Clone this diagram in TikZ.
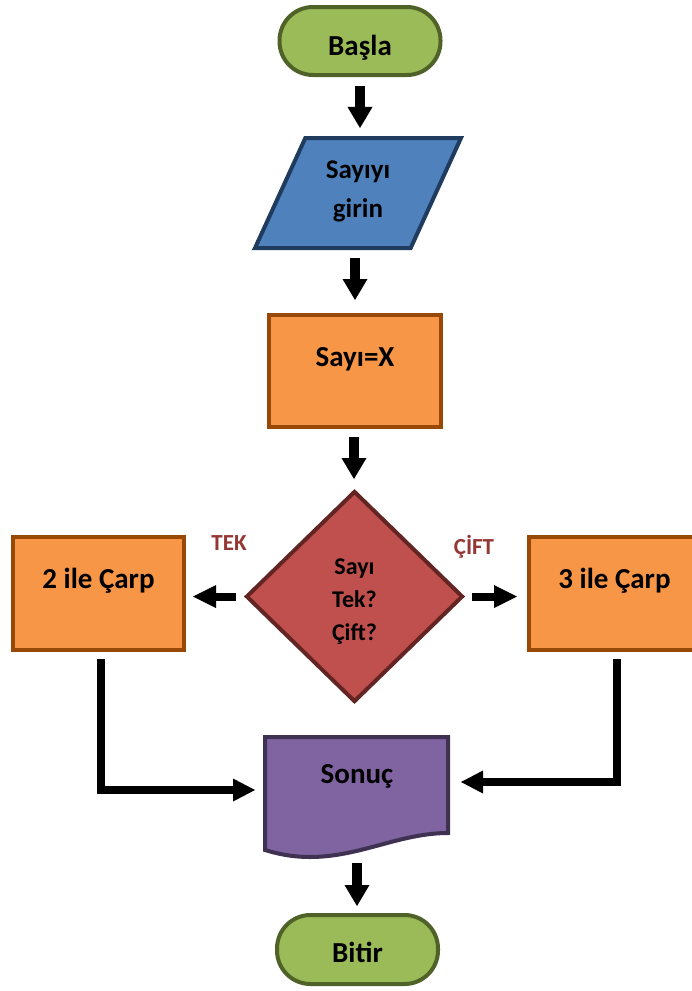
\documentclass[tikz,border=0pt]{standalone}
\usepackage{fontspec}
\setmainfont{Carlito}
\usetikzlibrary{arrows.meta,shapes.geometric}
\definecolor{gfill}{HTML}{9BBB59}
\definecolor{gborder}{HTML}{4F6228}
\definecolor{bfill}{HTML}{4F81BD}
\definecolor{bborder}{HTML}{1F3B5E}
\definecolor{ofill}{HTML}{F79646}
\definecolor{oborder}{HTML}{984807}
\definecolor{rfill}{HTML}{C0504D}
\definecolor{rborder}{HTML}{632523}
\definecolor{pfill}{HTML}{8064A2}
\definecolor{pborder}{HTML}{3F3151}
\definecolor{labcol}{HTML}{953735}
\tikzset{
  bigfont/.style={font=\fontsize{29}{34}\selectfont\bfseries},
  term/.style={draw=gborder, fill=gfill, line width=4pt, rounded corners=33.5pt,
    minimum width=161pt, minimum height=68pt, inner sep=0pt, bigfont},
  proc/.style={draw=oborder, fill=ofill, line width=4pt, inner sep=0pt, bigfont},
  lab/.style={text=labcol, inner sep=0pt, font=\fontsize{23}{28}\selectfont\bfseries},
  bigarrow/.style={line width=10pt, -{Triangle[width=25pt,length=21pt,line width=0pt]}},
  smallarrow/.style={line width=8pt, -{Triangle[width=23pt,length=23pt,line width=0pt]}},
  elbow/.style={line width=8pt, -{Triangle[width=23pt,length=22pt,line width=0pt]}},
}
\begin{document}
\begin{tikzpicture}[x=1pt,y=-1pt]
\useasboundingbox (0,0) rectangle (692,991);

% nodes
\node[term, text height=30pt, text depth=2pt] (start) at (360,41) {Başla};

\node[trapezium, trapezium left angle=70, trapezium right angle=110,
      trapezium stretches=true, minimum width=206pt, minimum height=110pt,
      draw=bborder, fill=bfill, line width=4pt, inner sep=0pt,
      font=\fontsize{27}{39}\selectfont\bfseries] (in) at (358,193)
      {\begin{tabular}{@{}c@{}}Sayıyı\\girin\rule[-18.3pt]{0pt}{18.3pt}\end{tabular}};

\node[proc, minimum width=172pt, minimum height=112pt, text height=14pt, text depth=24pt] (x) at (355,371) {Sayı=X};

\node[diamond, draw=rborder, fill=rfill, line width=4pt, minimum width=217pt,
      minimum height=211pt, inner sep=0pt,
      font=\fontsize{24}{33}\selectfont\bfseries] (d) at (354.5,596.5)
      {\begin{tabular}{@{}c@{}}Sayı\rule{0pt}{30.9pt}\\Tek?\\Çift?\end{tabular}};

\node[proc, minimum width=171pt, minimum height=113pt, text height=14pt, text depth=25pt] (l2) at (98.5,593.5) {2 ile Çarp};
\node[proc, minimum width=171pt, minimum height=113pt, text height=14pt, text depth=25pt] (r3) at (614.5,593.5) {3 ile Çarp};

\node[lab] (tek) at (229,543) {TEK};
\node[lab] (cift) at (474,547) {ÇİFT};

% document shape
\draw[draw=pborder, fill=pfill, line width=4pt, line join=miter]
  (265,737) -- (448,737) -- (448,833)
  .. controls (400,833) and (360,857) .. (310,857)
  .. controls (290,857) and (275,853) .. (265,850) -- cycle;
\node[anchor=base, inner sep=0pt, bigfont] (son) at (357,783) {Sonuç};
\coordinate (sonL) at (263,790);
\coordinate (sonR) at (450,782);
\coordinate (sonB) at (357,855);

\node[term, text height=27pt, text depth=2pt, minimum height=69pt] (end) at (357.5,949.5) {Bitir};

% connectors
\draw[bigarrow, shorten <=9pt, shorten >=8pt] (start.south) -- (start.south |- in.north);
\draw[bigarrow, shorten <=8pt, shorten >=13pt] (x.north |- in.south) -- (x.north);
\draw[bigarrow, shorten <=8pt, shorten >=10pt] ([xshift=-1pt]x.south) -- ([xshift=-1pt]x.south |- d.north);
\draw[smallarrow, shorten <=8pt, shorten >=7pt] (d.west) -- (d.west -| l2.east);
\draw[smallarrow, shorten <=7pt, shorten >=10pt] (d.east) -- (d.east -| r3.west);
\draw[elbow, shorten <=7pt, shorten >=8pt] ([xshift=2pt]l2.south) |- (sonL);
\draw[elbow, shorten <=7pt, shorten >=11pt] ([xshift=2.5pt]r3.south) |- (sonR);
\draw[bigarrow, shorten <=8pt, shorten >=7pt] (sonB) -- (sonB |- end.north);
\end{tikzpicture}
\end{document}
